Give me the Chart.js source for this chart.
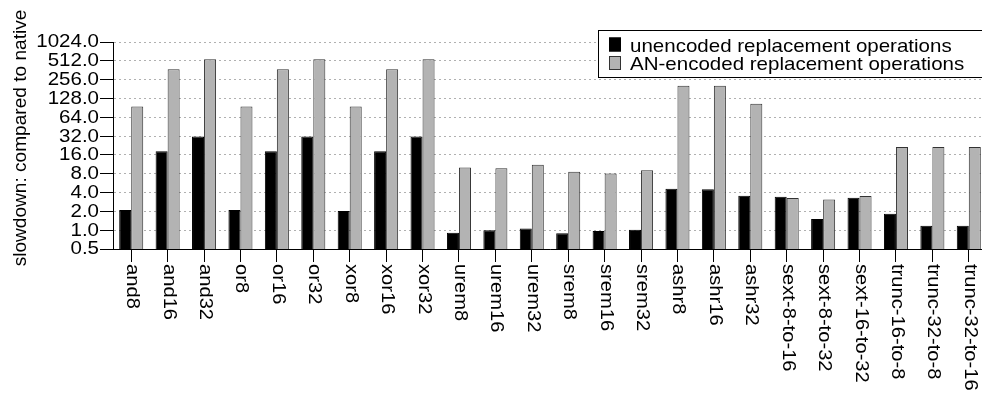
<!DOCTYPE html>
<html>
<head>
<meta charset="utf-8">
<script src="https://cdn.jsdelivr.net/npm/chart.js@4/dist/chart.umd.min.js"></script>
<style>
  html, body { margin: 0; padding: 0; background: #fff; overflow: hidden; }
  #wrap { width: 982px; height: 394px; overflow: hidden; position: relative; }
  canvas { display: block; }
</style>
</head>
<body>
<div id="wrap"><canvas id="c" width="1000" height="394"></canvas></div>
<script>
// Operations measured
const categories = [
  'and8', 'and16', 'and32', 'or8', 'or16', 'or32', 'xor8', 'xor16', 'xor32',
  'urem8', 'urem16', 'urem32', 'srem8', 'srem16', 'srem32',
  'ashr8', 'ashr16', 'ashr32',
  'sext-8-to-16', 'sext-8-to-32', 'sext-16-to-32',
  'trunc-16-to-8', 'trunc-32-to-8', 'trunc-32-to-16'
];

// Slowdown factors relative to native code
const unencoded = [
  2.1, 18.3, 31.4, 2.1, 18.3, 31.4, 2.03, 18.3, 31.4,
  0.91, 1.0, 1.06, 0.89, 0.97, 1.02,
  4.6, 4.5, 3.57,
  3.44, 1.51, 3.31,
  1.84, 1.18, 1.18
];
const anEncoded = [
  95, 375, 544, 95, 375, 544, 95, 375, 544,
  10.1, 9.8, 11.1, 8.6, 8.1, 9.1,
  204, 204, 105,
  3.28, 3.11, 3.53,
  21.5, 21.5, 21.5
];

const seriesNames = ['unencoded replacement operations', 'AN-encoded replacement operations'];
const yTicks = [0.5, 1, 2, 4, 8, 16, 32, 64, 128, 256, 512, 1024];
const yTitle = 'slowdown: compared to native';

const FONT = '"Liberation Sans", Arial, Helvetica, sans-serif';
const BLACK = '#000000';
const GREY = '#b3b3b3';

// Draws text widened along its own direction
function wideText(ctx, text, x, y, opt) {
  ctx.save();
  ctx.translate(x, y);
  if (opt.rotate) ctx.rotate(opt.rotate);
  ctx.scale(opt.sx || 1, 1);
  ctx.font = (opt.size || 17) + 'px ' + FONT;
  ctx.fillStyle = '#000';
  ctx.textAlign = opt.align || 'left';
  ctx.textBaseline = opt.baseline || 'middle';
  ctx.fillText(text, 0, 0);
  ctx.restore();
}

const textPlugin = {
  id: 'textPlugin',
  afterDraw(chart) {
    const ctx = chart.ctx;
    const xs = chart.scales.x;
    const ys = chart.scales.y;
    const area = chart.chartArea;

    // y tick labels
    yTicks.forEach(v => {
      wideText(ctx, v.toFixed(1), area.left - 14, ys.getPixelForValue(v) + 0.5,
        { align: 'right', sx: 1.14, size: 18 });
    });

    // category labels, rotated clockwise
    categories.forEach((c, i) => {
      wideText(ctx, c, xs.getPixelForValue(i) + 1, area.bottom + 15,
        { rotate: Math.PI / 2, align: 'left', sx: 1.12, size: 18 });
    });

    // y axis title
    wideText(ctx, yTitle, 21, 138,
      { rotate: -Math.PI / 2, align: 'center', sx: 1.06, size: 18 });

    // legend box
    ctx.save();
    ctx.fillStyle = '#fff';
    ctx.fillRect(598, 30, 400, 47);
    ctx.strokeStyle = '#000';
    ctx.lineWidth = 1;
    ctx.strokeRect(598.5, 30.5, 400, 47);
    const ds = chart.data.datasets;
    const rows = [51.5, 70];
    ds.forEach((d, i) => {
      const top = rows[i] - 14;
      ctx.fillStyle = d.backgroundColor;
      ctx.fillRect(609, top, 12, 14);
      ctx.strokeStyle = d.borderColor;
      ctx.strokeRect(609.5, top + 0.5, 11, 13);
      wideText(ctx, d.label, 630, rows[i],
        { baseline: 'alphabetic', sx: 1.08, size: 19 });
    });
    ctx.restore();
  }
};

new Chart(document.getElementById('c'), {
  type: 'bar',
  data: {
    labels: categories,
    datasets: [
      {
        label: seriesNames[0],
        data: unencoded,
        backgroundColor: BLACK,
        borderColor: '#000000',
        borderWidth: 1
      },
      {
        label: seriesNames[1],
        data: anEncoded,
        backgroundColor: GREY,
        borderColor: '#333333',
        borderWidth: 1
      }
    ]
  },
  plugins: [textPlugin],
  options: {
    responsive: false,
    animation: false,
    devicePixelRatio: 1,
    categoryPercentage: 0.66,
    barPercentage: 1.0,
    layout: { padding: { top: 42, right: 13, left: 0, bottom: 0 } },
    plugins: {
      legend: { display: false },
      tooltip: { enabled: false }
    },
    scales: {
      x: {
        offset: true,
        grid: {
          display: true,
          offset: false,
          drawOnChartArea: false,
          drawTicks: true,
          tickLength: 13,
          tickColor: '#000'
        },
        border: { display: true, color: '#000', width: 1 },
        ticks: { display: false },
        afterFit(scale) { scale.height = 145; }
      },
      y: {
        type: 'logarithmic',
        min: 0.5,
        max: 1024,
        afterBuildTicks(scale) {
          scale.ticks = yTicks.map(v => ({ value: v }));
        },
        grid: {
          color: '#b0b0b0',
          lineWidth: 1,
          drawTicks: true,
          tickLength: 13,
          tickColor: '#000'
        },
        border: { display: true, color: '#000', width: 1, dash: [2, 3] },
        ticks: { display: false },
        afterFit(scale) { scale.width = 113; }
      }
    }
  }
});
</script>
</body>
</html>
